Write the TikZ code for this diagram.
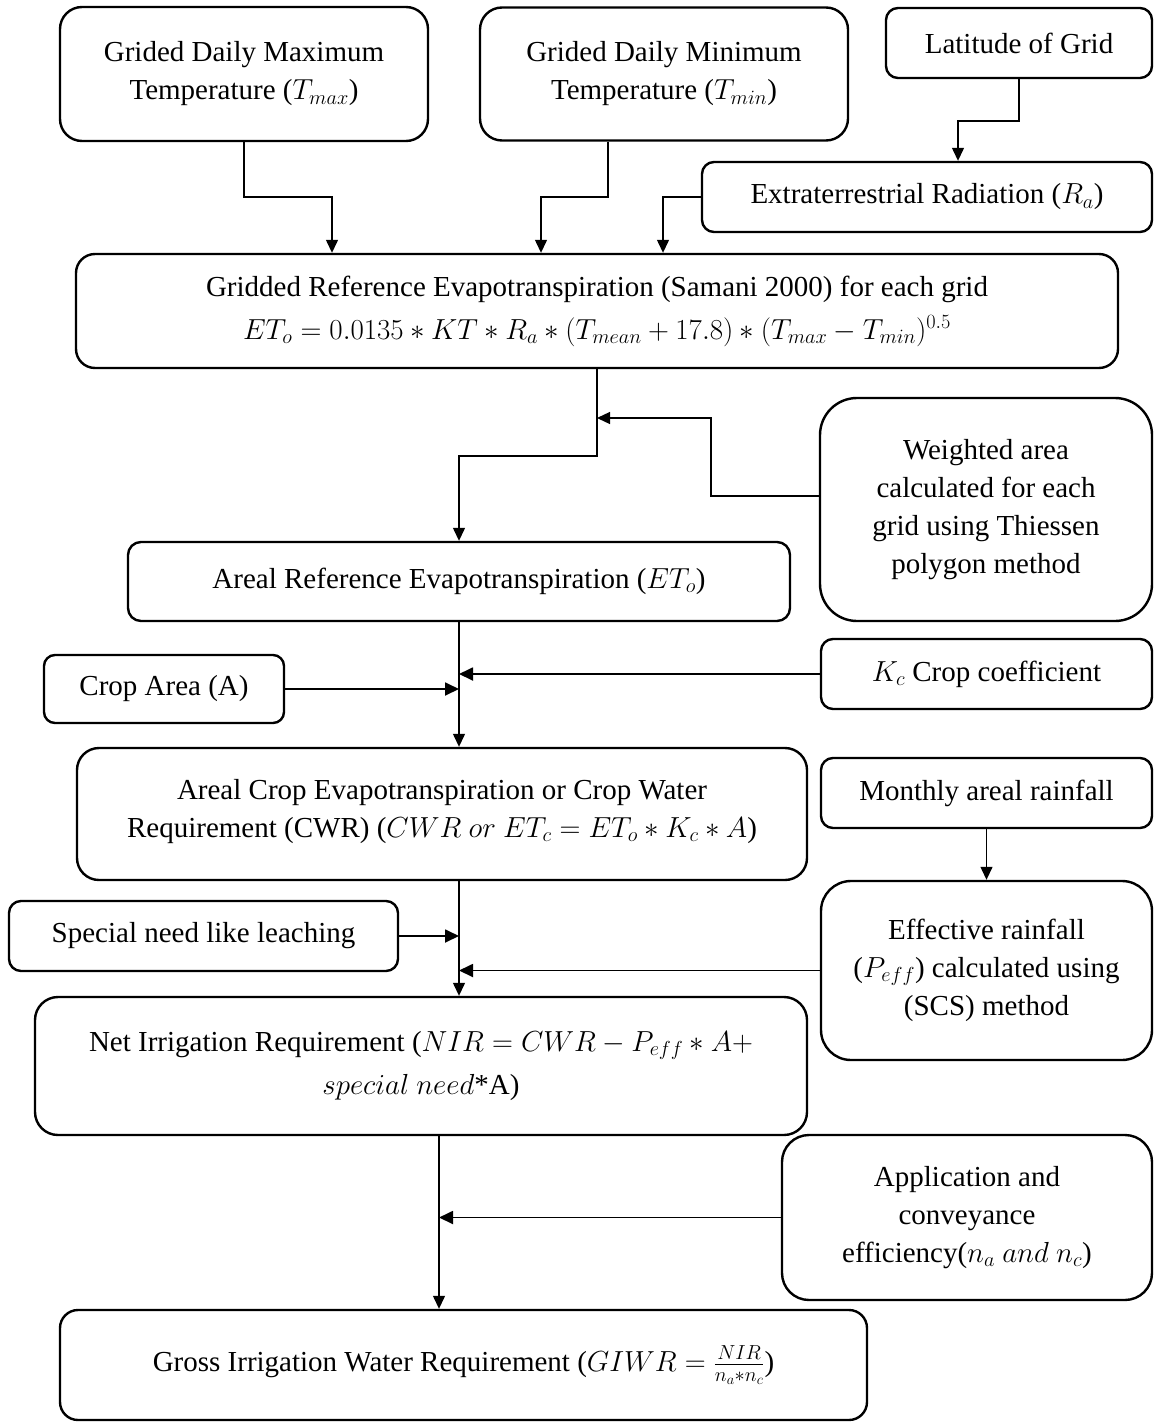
\RequirePackage{fix-cm}
\documentclass[tikz,border=0pt]{standalone}
\usepackage{fontspec}
\setmainfont{Liberation Serif}
\usetikzlibrary{arrows.meta}
\tikzset{
  box/.style={draw, line width=2.4pt, align=center, inner sep=0pt,
    font=\fontsize{29}{38}\selectfont},
  conn/.style={line width=1.3pt, -{Triangle[length=13pt,width=12pt]}},
  connh/.style={line width=1.8pt, -{Triangle[length=14pt,width=13pt]}},
}
\begin{document}
\begin{tikzpicture}[x=1pt,y=-1pt]
\useasboundingbox (0,0) rectangle (1155,1423);
% boxes
\node[box, rounded corners=22pt, minimum width=368pt, minimum height=134pt] (tmax) at (244,74)
  {Grided Daily Maximum\\Temperature ($T_{max}$)};
\node[box, rounded corners=22pt, minimum width=368pt, minimum height=133pt] (tmin) at (664,74)
  {Grided Daily Minimum\\Temperature ($T_{min}$)};
\node[box, rounded corners=12pt, minimum width=266pt, minimum height=70pt] (lat) at (1019,43)
  {Latitude of Grid};
\node[box, rounded corners=12pt, minimum width=450pt, minimum height=70pt] (ra) at (927,197)
  {Extraterrestrial Radiation ($R_a$)};
\node[box, rounded corners=19pt, minimum width=1042pt, minimum height=114pt] (et) at (597,311)
  {Gridded Reference Evapotranspiration (Samani 2000) for each grid\\[5pt]
   $ET_o = 0.0135 * KT * R_a * (T_{mean} + 17.8) * (T_{max} - T_{min})^{0.5}$};
\node[box, rounded corners=37pt, minimum width=332pt, minimum height=223pt] (wa) at (986,509.5)
  {Weighted area\\calculated for each\\grid using Thiessen\\polygon method};
\node[box, rounded corners=13pt, minimum width=662pt, minimum height=79pt] (aref) at (459,581.5)
  {Areal Reference Evapotranspiration ($ET_o$)};
\node[box, rounded corners=12pt, minimum width=331pt, minimum height=70pt] (kc) at (986.5,674)
  {$K_c$ Crop coefficient};
\node[box, rounded corners=11pt, minimum width=240pt, minimum height=68pt] (crop) at (164,689)
  {Crop Area (A)};
\node[box, rounded corners=22pt, minimum width=730pt, minimum height=132pt] (cwr) at (442,814)
  {Areal Crop Evapotranspiration or Crop Water\\
   Requirement (CWR) ($CWR\ or\ ET_c = ET_o * K_c * A$)\\[-26pt]\mbox{}};
\node[box, rounded corners=12pt, minimum width=331pt, minimum height=70pt] (mr) at (986.5,793)
  {Monthly areal rainfall};
\node[box, rounded corners=12pt, minimum width=389pt, minimum height=70pt] (sp) at (203.5,936)
  {Special need like leaching};
\node[box, rounded corners=30pt, minimum width=331pt, minimum height=179pt] (peff) at (986.5,970.5)
  {Effective rainfall\\($P_{eff}$) calculated using\\(SCS) method};
\node[box, rounded corners=23pt, minimum width=772pt, minimum height=138pt] (nir) at (421,1066)
  {Net Irrigation Requirement ($NIR = CWR - P_{eff} * A +$\\[5pt]
   $special\ need$*A)};
\node[box, rounded corners=27pt, minimum width=370pt, minimum height=165pt] (app) at (967,1217.5)
  {Application and\\conveyance\\efficiency($n_a\ and\ n_c$)};
\node[box, rounded corners=18pt, minimum width=807pt, minimum height=110pt] (giwr) at (463.5,1365)
  {Gross Irrigation Water Requirement ($GIWR = \frac{NIR}{n_a * n_c}$)};
% bend points
\coordinate (j1) at (332,197);
\coordinate (j2) at (541,197);
\coordinate (j3) at (663,197);
\coordinate (j4) at (958,121);
\coordinate (j5) at (459,456);
\coordinate (j6) at (711,496);
\coordinate (m1) at (597,418);
\coordinate (n1) at (439,1135);
% connectors
\draw[conn] (tmax.south) |- (j1) -- (j1 |- et.north);
\draw[conn] ([xshift=-56pt]tmin.south) |- (j2) -- (j2 |- et.north);
\draw[conn] (ra.west) -| (j3 |- et.north);
\draw[conn] (lat.south) |- (j4) -- (j4 |- ra.north);
\draw[conn] (et.south) |- (j5) -- (j5 |- aref.north);
\draw[conn] (wa.west |- j6) -- (j6) |- (m1);
\draw[conn] (aref.south) -- (aref.south |- cwr.north);
\draw[connh] (kc.west) -- (kc.west -| aref.south);
\draw[connh] (crop.east) -- (crop.east -| aref.south);
\draw[conn] (aref.south |- cwr.south) -- (aref.south |- nir.north);
\draw[conn] (mr.south) -- (mr.south |- peff.north);
\draw[connh] (sp.east) -- (sp.east -| aref.south);
\draw[connh] (peff.west) -- (peff.west -| aref.south);
\draw[conn] (n1) -- (n1 |- giwr.north);
\draw[connh] (app.west) -- (app.west -| n1);
\end{tikzpicture}
\end{document}
